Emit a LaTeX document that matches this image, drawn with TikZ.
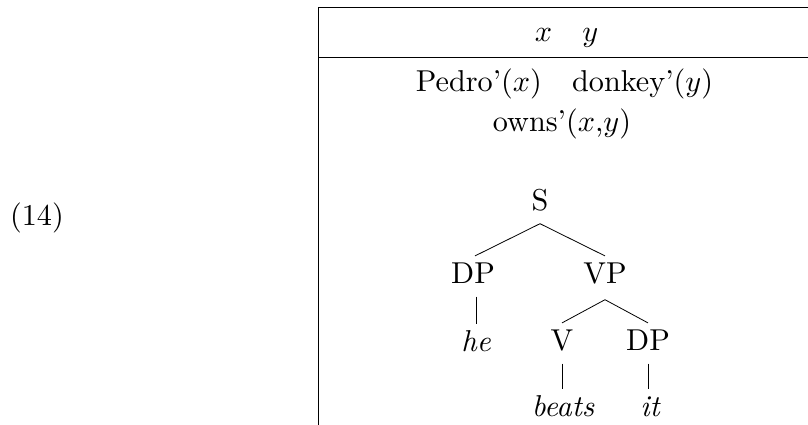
\documentclass[tikz,border=0pt]{standalone}
\usepackage{fontspec}
\setmainfont{lmroman10-regular.otf}[ItalicFont=lmroman10-italic.otf]
\DeclareFontShape{OML}{cmm}{m}{it}{<->cmmi10}{}
\begin{document}
\begin{tikzpicture}[x=1pt,y=-1pt,
  every node/.style={font=\fontsize{30.2}{36}\selectfont, inner sep=0pt, anchor=base},
  tnode/.style={text height=20.9pt, text depth=7.5pt, inner xsep=2pt, inner ysep=6pt},
  rule/.style={line width=0.8pt},
  branch/.style={line width=0.8pt}]
\useasboundingbox (0,0) rectangle (808,425);
% box
\coordinate (tl) at (318,7.5);
\coordinate (tr) at (808,7.5);
\coordinate (ml) at (318,57);
\coordinate (mr) at (808,57);
\coordinate (bl) at (318,425);
\draw[rule] (tr) -- (tl) -- (bl);
\draw[rule] (ml) -- (mr);
% label
\node (ex) at (37,225.5) {(14)};
% universe
\node (refs) at (566.5,41.5) {$x$\quad$y$};
% conditions
\node (c1) at (564.5,91.5) {Pedro'($x$)\quad donkey'($y$)};
\node (c2) at (562,131.5) {owns'($x$,$y$)};
% tree
\node[tnode] (S) at (540,210) {S};
\node[tnode] (DP) at (473,283) {DP};
\node[tnode] (VP) at (605,283) {VP};
\node[tnode] (he) at (476,351) {\itshape he};
\node[tnode] (V) at (562,350) {V};
\node[tnode] (DPb) at (648,350) {DP};
\node[tnode] (beats) at (563,416) {\itshape beats};
\node[tnode] (it) at (650,416) {\itshape it};
\draw[branch] (S.south) -- ([xshift=2pt]DP.north);
\draw[branch] (S.south) -- (VP.north);
\draw[branch] (DP.south -| he.north) -- (he.north);
\draw[branch] ([yshift=-3pt]VP.south) -- (V.north);
\draw[branch] ([yshift=-3pt]VP.south) -- (DPb.north);
\draw[branch] (V.south) -- (beats.north -| V.south);
\draw[branch] (DPb.south) -- (it.north -| DPb.south);
\end{tikzpicture}
\end{document}
